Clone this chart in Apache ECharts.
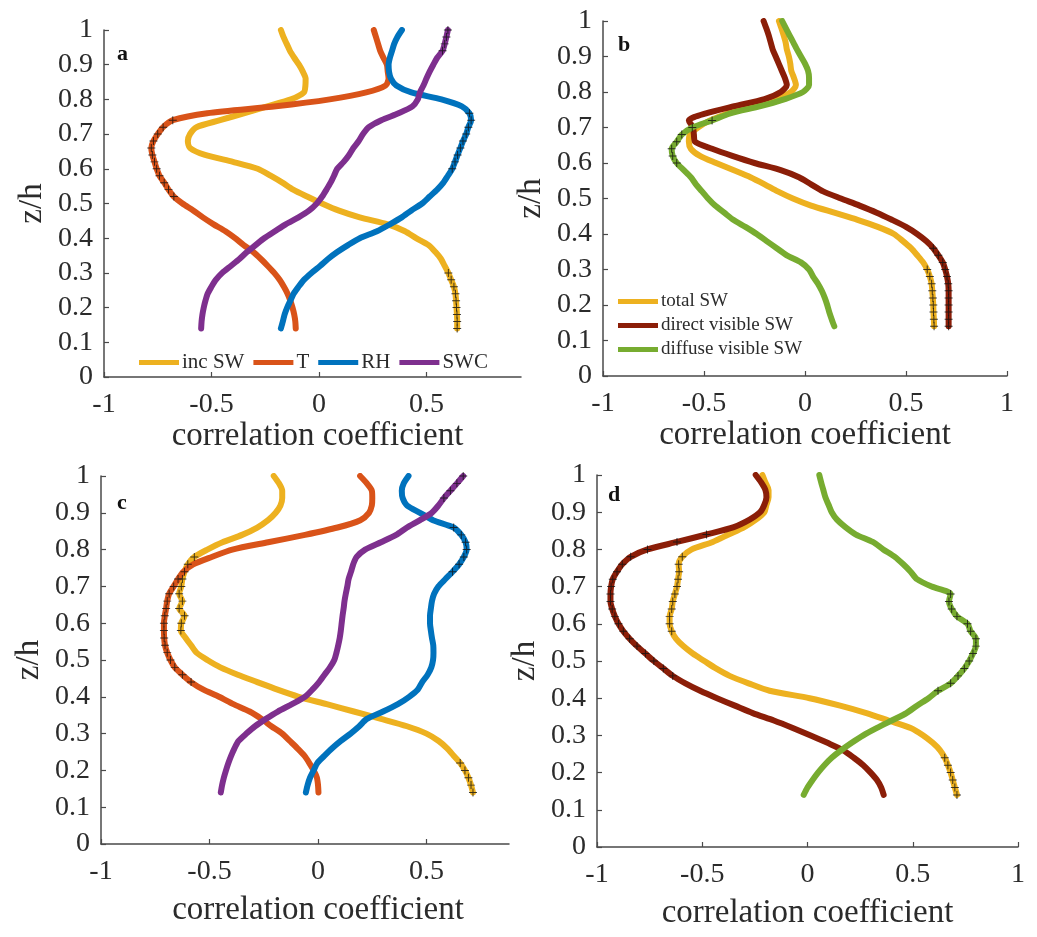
<!DOCTYPE html>
<html>
<head>
<meta charset="utf-8">
<script src="https://cdn.jsdelivr.net/npm/echarts@6/dist/echarts.min.js"></script>
<style>
  html, body { margin: 0; padding: 0; background: #fff; }
  #chart { width: 1037px; height: 937px; }
</style>
</head>
<body>
<div id="chart"></div>
<script>
// Normalised height levels z/h (bottom to top)
const zLevels = [0.14, 0.16, 0.18, 0.20, 0.22, 0.24, 0.26, 0.28, 0.30, 0.32, 0.34, 0.36, 0.38, 0.40,
  0.42, 0.44, 0.46, 0.48, 0.50, 0.52, 0.54, 0.56, 0.58, 0.60, 0.62, 0.64, 0.66, 0.68, 0.70, 0.72,
  0.74, 0.76, 0.78, 0.80, 0.82, 0.84, 0.86, 0.88, 0.90, 0.92, 0.94, 0.96, 0.98, 1.00];

// Panel a: correlation coefficient profiles
const aIncSW = [0.643, 0.643, 0.642, 0.640, 0.638, 0.635, 0.628, 0.615, 0.602, 0.585, 0.568, 0.542, 0.510, 0.452,
  0.400, 0.320, 0.190, 0.090, 0.014, -0.055, -0.120, -0.170, -0.225, -0.285, -0.400, -0.530, -0.600, -0.610, -0.600, -0.570,
  -0.460, -0.350, -0.240, -0.130, -0.070, -0.063, -0.062, -0.075, -0.093, -0.115, -0.135, -0.150, -0.165, -0.177];
const aT = [-0.108, -0.110, -0.115, -0.123, -0.133, -0.146, -0.163, -0.183, -0.208, -0.238, -0.270, -0.305, -0.350, -0.390,
  -0.435, -0.490, -0.540, -0.585, -0.635, -0.675, -0.700, -0.720, -0.742, -0.755, -0.765, -0.775, -0.780, -0.770, -0.750, -0.725,
  -0.680, -0.520, -0.200, 0.050, 0.220, 0.310, 0.324, 0.320, 0.316, 0.300, 0.285, 0.275, 0.265, 0.255];
const aRH = [-0.177, -0.168, -0.160, -0.148, -0.133, -0.118, -0.095, -0.070, -0.035, 0.005, 0.042, 0.085, 0.135, 0.190,
  0.270, 0.330, 0.385, 0.430, 0.480, 0.515, 0.550, 0.579, 0.600, 0.620, 0.633, 0.645, 0.658, 0.670, 0.685, 0.695,
  0.708, 0.700, 0.665, 0.570, 0.430, 0.360, 0.335, 0.326, 0.324, 0.330, 0.340, 0.350, 0.365, 0.386];
const aSWC = [-0.548, -0.546, -0.542, -0.536, -0.528, -0.518, -0.500, -0.480, -0.450, -0.410, -0.370, -0.335, -0.295, -0.255,
  -0.205, -0.155, -0.095, -0.045, -0.010, 0.015, 0.035, 0.054, 0.070, 0.085, 0.115, 0.140, 0.160, 0.185, 0.205, 0.232,
  0.290, 0.370, 0.435, 0.460, 0.470, 0.486, 0.500, 0.515, 0.532, 0.550, 0.575, 0.585, 0.593, 0.600];

// Panel b
const bTotal = [0.639, 0.638, 0.636, 0.635, 0.633, 0.630, 0.627, 0.618, 0.605, 0.585, 0.556, 0.525, 0.485, 0.440,
  0.360, 0.260, 0.145, 0.030, -0.060, -0.135, -0.200, -0.270, -0.355, -0.440, -0.520, -0.565, -0.575, -0.570, -0.530, -0.470,
  -0.380, -0.270, -0.145, -0.070, -0.045, -0.055, -0.068, -0.073, -0.080, -0.090, -0.096, -0.106, -0.117, -0.129];
const bDirect = [0.711, 0.711, 0.711, 0.711, 0.711, 0.711, 0.709, 0.703, 0.694, 0.682, 0.660, 0.635, 0.600, 0.555,
  0.500, 0.430, 0.355, 0.270, 0.178, 0.090, 0.030, -0.030, -0.120, -0.250, -0.360, -0.460, -0.545, -0.550, -0.555, -0.575,
  -0.490, -0.350, -0.200, -0.120, -0.090, -0.100, -0.115, -0.130, -0.145, -0.160, -0.170, -0.180, -0.192, -0.205];
const bDiffuse = [0.145, 0.132, 0.120, 0.110, 0.098, 0.083, 0.064, 0.040, 0.020, -0.020, -0.090, -0.140, -0.190, -0.239,
  -0.295, -0.355, -0.400, -0.445, -0.480, -0.510, -0.540, -0.565, -0.600, -0.635, -0.655, -0.660, -0.635, -0.610, -0.558, -0.460,
  -0.370, -0.220, -0.100, -0.010, 0.020, 0.020, 0.015, 0.000, -0.020, -0.040, -0.058, -0.077, -0.095, -0.113];

// Panel c
const cIncSW = [0.714, 0.705, 0.693, 0.677, 0.655, 0.625, 0.595, 0.556, 0.500, 0.410, 0.290, 0.165, 0.040, -0.089,
  -0.190, -0.280, -0.370, -0.450, -0.510, -0.560, -0.585, -0.610, -0.632, -0.630, -0.615, -0.640, -0.625, -0.640, -0.630, -0.625,
  -0.615, -0.600, -0.570, -0.510, -0.440, -0.350, -0.280, -0.230, -0.195, -0.173, -0.165, -0.165, -0.180, -0.204];
const cT = [0.002, 0.000, -0.005, -0.020, -0.040, -0.063, -0.095, -0.130, -0.165, -0.215, -0.260, -0.315, -0.390, -0.456,
  -0.530, -0.585, -0.625, -0.660, -0.680, -0.695, -0.705, -0.709, -0.710, -0.710, -0.706, -0.700, -0.695, -0.686, -0.665, -0.645,
  -0.620, -0.575, -0.490, -0.395, -0.230, -0.060, 0.090, 0.195, 0.235, 0.248, 0.250, 0.248, 0.225, 0.194];
const cRH = [-0.056, -0.048, -0.037, -0.020, -0.003, 0.030, 0.065, 0.105, 0.150, 0.190, 0.225, 0.300, 0.368, 0.420,
  0.460, 0.480, 0.505, 0.522, 0.530, 0.532, 0.531, 0.525, 0.520, 0.516, 0.516, 0.520, 0.525, 0.535, 0.555, 0.587,
  0.620, 0.650, 0.672, 0.685, 0.680, 0.660, 0.625, 0.530, 0.470, 0.410, 0.390, 0.386, 0.395, 0.417];
const cSWC = [-0.448, -0.442, -0.434, -0.424, -0.413, -0.400, -0.385, -0.366, -0.330, -0.290, -0.240, -0.185, -0.120, -0.060,
  -0.025, 0.005, 0.030, 0.055, 0.075, 0.085, 0.093, 0.100, 0.105, 0.109, 0.113, 0.118, 0.122, 0.128, 0.135, 0.141,
  0.152, 0.162, 0.178, 0.217, 0.290, 0.360, 0.410, 0.470, 0.524, 0.555, 0.580, 0.610, 0.640, 0.669];

// Panel d
const dTotal = [0.710, 0.700, 0.690, 0.680, 0.667, 0.652, 0.630, 0.595, 0.550, 0.490, 0.385, 0.280, 0.155, 0.010,
  -0.180, -0.280, -0.370, -0.435, -0.490, -0.545, -0.590, -0.625, -0.645, -0.655, -0.655, -0.645, -0.640, -0.630, -0.620, -0.615,
  -0.610, -0.612, -0.595, -0.550, -0.450, -0.375, -0.300, -0.245, -0.205, -0.195, -0.185, -0.185, -0.200, -0.214];
const dDirect = [0.362, 0.350, 0.330, 0.300, 0.265, 0.220, 0.170, 0.095, 0.015, -0.070, -0.160, -0.260, -0.345, -0.430,
  -0.510, -0.580, -0.640, -0.685, -0.730, -0.770, -0.810, -0.845, -0.875, -0.898, -0.915, -0.928, -0.936, -0.936, -0.933, -0.925,
  -0.905, -0.880, -0.840, -0.760, -0.620, -0.480, -0.350, -0.275, -0.225, -0.205, -0.195, -0.200, -0.220, -0.246];
const dDiffuse = [-0.018, 0.000, 0.024, 0.050, 0.080, 0.115, 0.160, 0.210, 0.265, 0.330, 0.400, 0.470, 0.520, 0.575,
  0.620, 0.680, 0.715, 0.745, 0.768, 0.786, 0.800, 0.800, 0.775, 0.760, 0.710, 0.685, 0.672, 0.680, 0.590, 0.520,
  0.490, 0.455, 0.415, 0.360, 0.310, 0.230, 0.180, 0.140, 0.115, 0.100, 0.085, 0.075, 0.065, 0.056];

// Height ranges [zLow, zHigh] where the correlation is significant (+ markers)
const sigAIncSW = [[0.14, 0.30]];
const sigAT = [[0.52, 0.74]];
const sigARH = [[0.60, 0.76]];
const sigASWC = [[0.94, 1.00]];
const sigBTotal = [[0.14, 0.30]];
const sigBDirect = [[0.14, 0.36]];
const sigBDiffuse = [[0.60, 0.72]];
const sigCIncSW = [[0.14, 0.22], [0.58, 0.78]];
const sigCT = [[0.44, 0.72]];
const sigCRH = [[0.74, 0.86]];
const sigCSWC = [[0.94, 1.00]];
const sigDTotal = [[0.14, 0.24], [0.58, 0.78]];
const sigDDirect = [[0.46, 0.84]];
const sigDDiffuse = [[0.42, 0.68]];

// Axis ticks and labels
const zTicks = [0, 0.1, 0.2, 0.3, 0.4, 0.5, 0.6, 0.7, 0.8, 0.9, 1];
const panelLetters = ['a', 'b', 'c', 'd'];
const namesAC = ['inc SW', 'T', 'RH', 'SWC'];
const namesBD = ['total SW', 'direct visible SW', 'diffuse visible SW'];
const xAxisTitle = 'correlation coefficient';
const yAxisTitle = 'z/h';

const colors = {
  'inc SW': '#EDB120', 'T': '#D95319', 'RH': '#0072BD', 'SWC': '#7E2F8E',
  'total SW': '#EDB120', 'direct visible SW': '#8B1E08', 'diffuse visible SW': '#77AC30'
};

const FONT = '"Liberation Serif", "Times New Roman", serif';
const INK = '#2b2b2b';

// layout of the four panels (pixels)
const grids = [
  { left: 104, top: 30, width: 417, height: 347 },
  { left: 603, top: 21, width: 404, height: 355 },
  { left: 101, top: 476, width: 408, height: 368 },
  { left: 597, top: 475, width: 421, height: 372 }
];
const xMax = [0.94, 1, 0.88, 1];
const xNamePad = [10, 0, 26, 0];
const xNameGap = [40, 40, 50, 50];

const panels = [
  { names: namesAC, data: [aIncSW, aT, aRH, aSWC], sig: [sigAIncSW, sigAT, sigARH, sigASWC] },
  { names: namesBD, data: [bTotal, bDirect, bDiffuse], sig: [sigBTotal, sigBDirect, sigBDiffuse] },
  { names: namesAC, data: [cIncSW, cT, cRH, cSWC], sig: [sigCIncSW, sigCT, sigCRH, sigCSWC] },
  { names: namesBD, data: [dTotal, dDirect, dDiffuse], sig: [sigDTotal, sigDDirect, sigDDiffuse] }
];

const plusPath = 'path://M-0.6,-5H0.6V-0.6H5V0.6H0.6V5H-0.6V0.6H-5V-0.6H-0.6Z';

const series = [];
panels.forEach((p, gi) => {
  p.data.forEach((vals, si) => {
    const name = p.names[si];
    const pts = vals.map((v, k) => [v, zLevels[k]]);
    series.push({
      type: 'line', name, xAxisIndex: gi, yAxisIndex: gi,
      data: pts, showSymbol: false, smooth: 0.25, z: 2,
      lineStyle: { width: 6, color: colors[name], cap: 'round', join: 'round' },
      itemStyle: { color: colors[name] },
      emphasis: { disabled: true }
    });
  });
  p.data.forEach((vals, si) => {
    const ranges = p.sig[si];
    const pts = [];
    vals.forEach((v, k) => {
      const z = zLevels[k];
      if (ranges.some(r => z >= r[0] - 1e-9 && z <= r[1] + 1e-9)) pts.push([v, z]);
    });
    series.push({
      type: 'scatter', name: 'significant', xAxisIndex: gi, yAxisIndex: gi,
      data: pts, symbol: plusPath, symbolSize: 8, z: 3, silent: true,
      itemStyle: { color: '#111' }
    });
  });
});

const fmt = v => String(Math.round(v * 10) / 10);

const option = {
  backgroundColor: '#ffffff',
  animation: false,
  grid: grids.map(g => Object.assign({ containLabel: false }, g)),
  xAxis: grids.map((g, i) => ({
    gridIndex: i, type: 'value', min: -1, max: xMax[i], interval: 0.5,
    axisLine: { show: true, onZero: false, lineStyle: { color: '#4a4a4a', width: 1.5 } },
    axisTick: { show: true, inside: true, length: 5, lineStyle: { color: '#4a4a4a', width: 1.2 } },
    splitLine: { show: false },
    axisLabel: {
      fontFamily: FONT, fontSize: 28, color: INK, margin: 14, formatter: fmt,
      showMaxLabel: xMax[i] === 1
    },
    name: xAxisTitle, nameLocation: 'middle', nameGap: xNameGap[i],
    nameTextStyle: { fontFamily: FONT, fontSize: 33, color: INK, padding: [0, 0, 0, xNamePad[i]] }
  })),
  yAxis: grids.map((g, i) => ({
    gridIndex: i, type: 'value', min: zTicks[0], max: zTicks[zTicks.length - 1], interval: 0.1,
    axisLine: { show: true, onZero: false, lineStyle: { color: '#4a4a4a', width: 1.5 } },
    axisTick: { show: true, inside: true, length: 5, lineStyle: { color: '#4a4a4a', width: 1.2 } },
    splitLine: { show: false },
    axisLabel: { fontFamily: FONT, fontSize: 28, color: INK, margin: 11, formatter: fmt },
    name: yAxisTitle, nameLocation: 'middle', nameGap: 55, nameRotate: 90,
    nameTextStyle: { fontFamily: FONT, fontSize: 33, color: INK }
  })),
  legend: [
    {
      data: namesAC, orient: 'horizontal', left: 134, top: 347,
      icon: 'rect', itemWidth: 40, itemHeight: 5, itemGap: 9,
      textStyle: { fontFamily: FONT, fontSize: 21, color: INK, padding: [0, 0, 0, -2] },
      selectedMode: false
    },
    {
      data: namesBD, orient: 'vertical', left: 613, top: 287,
      icon: 'rect', itemWidth: 40, itemHeight: 5, itemGap: 5,
      textStyle: { fontFamily: FONT, fontSize: 19, color: INK, lineHeight: 19, padding: [0, 0, 0, -2] },
      selectedMode: false
    }
  ],
  graphic: [
    { type: 'text', left: 117, top: 43, style: { text: panelLetters[0], font: 'bold 22px ' + FONT, fill: '#111' } },
    { type: 'text', left: 618, top: 34, style: { text: panelLetters[1], font: 'bold 22px ' + FONT, fill: '#111' } },
    { type: 'text', left: 117, top: 492, style: { text: panelLetters[2], font: 'bold 22px ' + FONT, fill: '#111' } },
    { type: 'text', left: 608, top: 484, style: { text: panelLetters[3], font: 'bold 22px ' + FONT, fill: '#111' } }
  ],
  series
};

const chart = echarts.init(document.getElementById('chart'), null, { renderer: 'canvas' });
chart.setOption(option);
</script>
</body>
</html>
